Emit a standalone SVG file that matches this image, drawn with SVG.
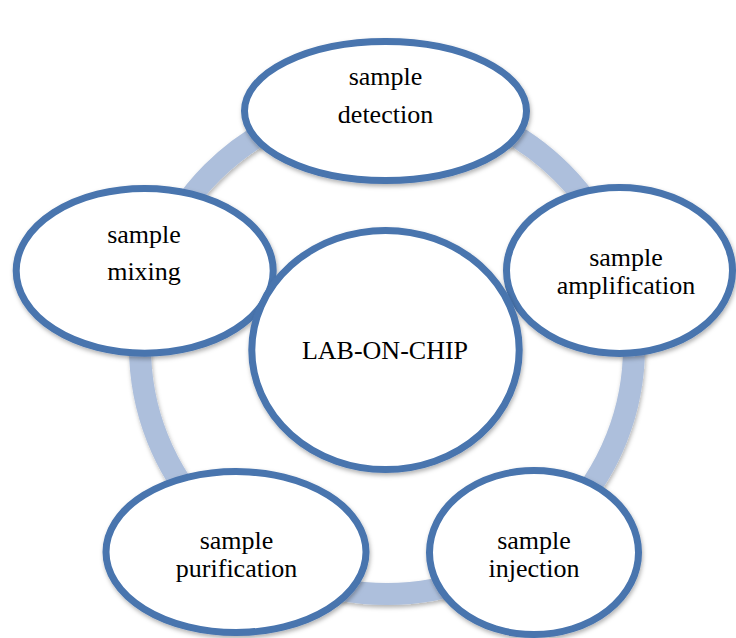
<svg xmlns="http://www.w3.org/2000/svg" width="736" height="638" viewBox="0 0 736 638">
  <defs>
    <filter id="sh" x="-10%" y="-10%" width="120%" height="125%">
      <feDropShadow dx="1" dy="2.5" stdDeviation="2" flood-color="#000" flood-opacity="0.3"/>
    </filter>
  </defs>
  <style>
    .node { fill: #ffffff; stroke: #4874ae; stroke-width: 7; filter: url(#sh); }
    .ring { fill: none; stroke: #adbfdc; stroke-width: 22; filter: url(#sh); }
    .lbl { font-size: 26px; fill: #000; text-anchor: middle; }
  </style>
  <rect width="736" height="638" fill="#ffffff"/>
  <g id="connectors">
    <circle class="ring" cx="387" cy="347" r="247"/>
  </g>
  <g font-family="'Liberation Serif', 'DejaVu Serif', 'Times New Roman', serif">
  <g id="node-detection">
    <ellipse class="node" cx="385.5" cy="111" rx="141" ry="69.5"/>
    <text class="lbl" x="385.5" y="85">sample</text>
    <text class="lbl" x="385.5" y="123">detection</text>
  </g>
  <g id="node-amplification">
    <ellipse class="node" cx="619.5" cy="270.5" rx="113" ry="83"/>
    <text class="lbl" x="626" y="266">sample</text>
    <text class="lbl" x="626" y="293.5">amplification</text>
  </g>
  <g id="node-injection">
    <ellipse class="node" cx="534" cy="552.5" rx="104.5" ry="82"/>
    <text class="lbl" x="534" y="548.5">sample</text>
    <text class="lbl" x="534" y="576.5">injection</text>
  </g>
  <g id="node-purification">
    <ellipse class="node" cx="236" cy="552" rx="130" ry="80.5"/>
    <text class="lbl" x="236.5" y="549">sample</text>
    <text class="lbl" x="236.5" y="576.5">purification</text>
  </g>
  <g id="node-mixing">
    <ellipse class="node" cx="144.7" cy="270.8" rx="128.5" ry="82.4"/>
    <text class="lbl" x="144" y="242.5">sample</text>
    <text class="lbl" x="144" y="280">mixing</text>
  </g>
  <g id="node-center">
    <ellipse class="node" cx="385.5" cy="350" rx="133.7" ry="119.6"/>
    <text class="lbl" x="385" y="358.5">LAB-ON-CHIP</text>
  </g>
  </g>
</svg>
